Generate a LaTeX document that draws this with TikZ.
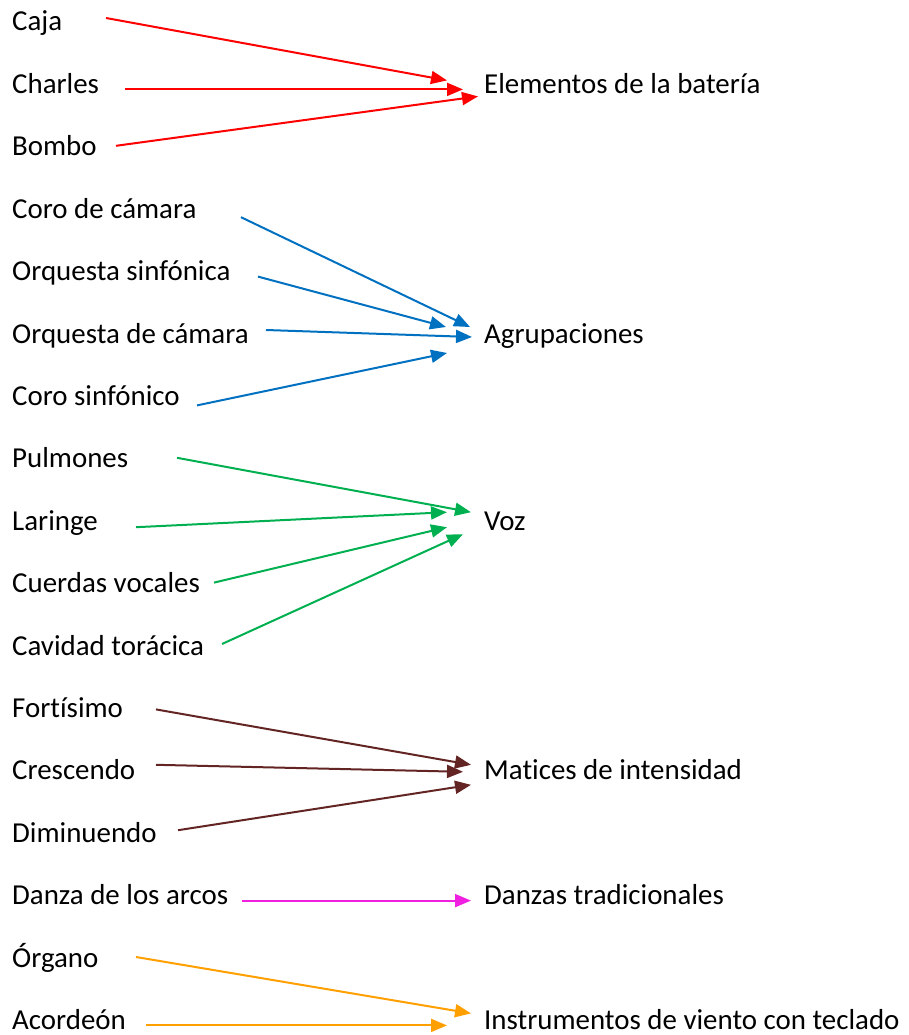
\documentclass[tikz,border=0pt]{standalone}
\usepackage{fontspec}
\setmainfont{Carlito}[Ligatures={NoCommon}]
\usepackage{tikz}
\usetikzlibrary{positioning, arrows.meta}

\definecolor{bateriared}{HTML}{FF0000}
\definecolor{grupoblue}{HTML}{0070C0}
\definecolor{vozgreen}{HTML}{00B050}
\definecolor{maticesbrown}{HTML}{632523}
\definecolor{danzamagenta}{HTML}{F020E0}
\definecolor{teclaorange}{HTML}{FFA000}

\tikzset{
  item/.style={anchor=base west, inner sep=0pt, font=\fontsize{28.9}{34}\selectfont},
  link/.style={-{Triangle[length=16pt,width=13pt]}, line width=2pt},
}

\begin{document}
\begin{tikzpicture}[x=1pt, y=-1pt]
\useasboundingbox (0,0) rectangle (909,1035);
% parts
\node[item] (caja) at (12,31) {Caja};
\node[item] (charles) at (12,93.4) {Charles};
\node[item] (bombo) at (12,155.8) {Bombo};
\node[item] (cororcam) at (12,218.2) {Coro de cámara};
\node[item] (orqsinf) at (12,280.6) {Orquesta sinfónica};
\node[item] (orqcam) at (12,343) {Orquesta de cámara};
\node[item] (corosinf) at (12,405.4) {Coro sinfónico};
\node[item] (pulmones) at (12,467.8) {Pulmones};
\node[item] (laringe) at (12,530.2) {Laringe};
\node[item] (cuerdas) at (12,592.6) {Cuerdas vocales};
\node[item] (cavidad) at (12,655) {Cavidad torácica};
\node[item] (fortisimo) at (12,717.4) {Fortísimo};
\node[item] (crescendo) at (12,779.8) {Crescendo};
\node[item] (diminuendo) at (12,842.2) {Diminuendo};
\node[item] (arcos) at (12,904.6) {Danza de los arcos};
\node[item] (organo) at (12,967) {Órgano};
\node[item] (acordeon) at (12,1029.4) {Acordeón};
% groups
\node[item] (bateria) at (484,93.4) {Elementos de la batería};
\node[item] (agrup) at (484,343) {Agrupaciones};
\node[item] (voz) at (484,530.2) {Voz};
\node[item] (matices) at (484,779.8) {Matices de intensidad};
\node[item] (danzas) at (484,904.6) {Danzas tradicionales};
\node[item] (viento) at (484,1029.4) {Instrumentos de viento con teclado};

\draw[link, bateriared] ([shift={(94,-13)}]caja.base west) -- ([shift={(-37,-13)}]bateria.base west);
\draw[link, bateriared] ([shift={(113,-4)}]charles.base west) -- ([shift={(-21,-4)}]bateria.base west);
\draw[link, bateriared] ([shift={(104,-10)}]bombo.base west) -- ([shift={(-6,3)}]bateria.base west);

\draw[link, grupoblue] ([shift={(229,-1)}]cororcam.base west) -- ([shift={(-14,-16)}]agrup.base west);
\draw[link, grupoblue] ([shift={(246,-4)}]orqsinf.base west) -- ([shift={(-38,-16)}]agrup.base west);
\draw[link, grupoblue] ([shift={(254,-13)}]orqcam.base west) -- ([shift={(-12,-6)}]agrup.base west);
\draw[link, grupoblue] ([shift={(185,0)}]corosinf.base west) -- ([shift={(-37,10)}]agrup.base west);

\draw[link, vozgreen] ([shift={(165,-10)}]pulmones.base west) -- ([shift={(-13,-18)}]voz.base west);
\draw[link, vozgreen] ([shift={(124,-3)}]laringe.base west) -- ([shift={(-37,-18)}]voz.base west);
\draw[link, vozgreen] ([shift={(202,-10)}]cuerdas.base west) -- ([shift={(-37,-3)}]voz.base west);
\draw[link, vozgreen] ([shift={(210,-11)}]cavidad.base west) -- ([shift={(-21,4)}]voz.base west);

\draw[link, maticesbrown] ([shift={(144,-8)}]fortisimo.base west) -- ([shift={(-13,-15)}]matices.base west);
\draw[link, maticesbrown] ([shift={(144,-15)}]crescendo.base west) -- ([shift={(-21,-8)}]matices.base west);
\draw[link, maticesbrown] ([shift={(166,-12)}]diminuendo.base west) -- ([shift={(-13,5)}]matices.base west);

\draw[link, danzamagenta] ([shift={(230,-4)}]arcos.base west) -- ([shift={(-13,-4)}]danzas.base west);

\draw[link, teclaorange] ([shift={(124,-10)}]organo.base west) -- ([shift={(-13,-16)}]viento.base west);
\draw[link, teclaorange] ([shift={(134,-4)}]acordeon.base west) -- ([shift={(-37,-4)}]viento.base west);
\end{tikzpicture}
\end{document}
